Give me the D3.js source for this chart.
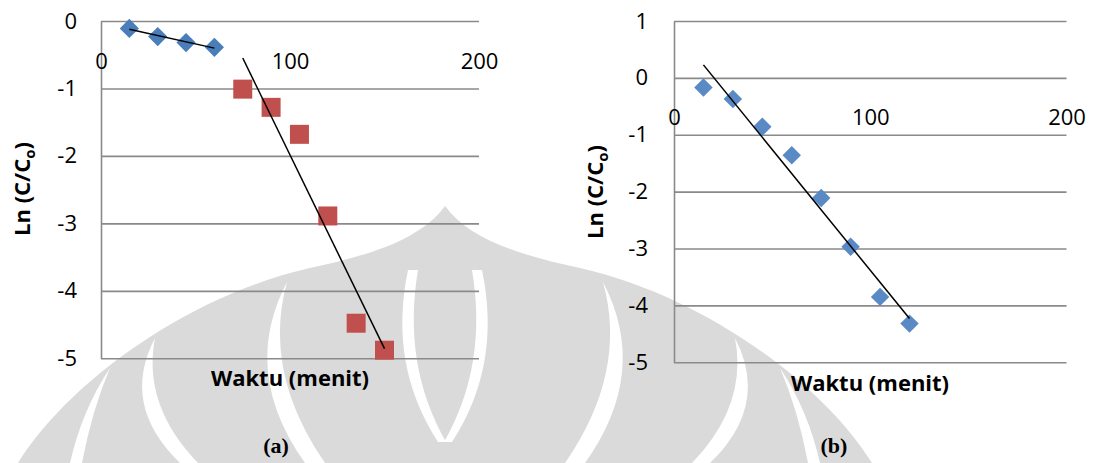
<!DOCTYPE html>
<html><head><meta charset="utf-8">
<script src="https://cdn.jsdelivr.net/npm/d3@7"></script>
<style>body{margin:0;background:#fff}svg{display:block}</style>
</head><body>
<svg id="c" width="1096" height="463"></svg>
<script>
// ---- data ----
const xTicks = [0, 100, 200];
const yTicksA = [0, -1, -2, -3, -4, -5];
const yTicksB = [1, 0, -1, -2, -3, -4, -5];
const timeA1 = [15, 30, 45, 60];
const lnA1 = [-0.11, -0.23, -0.32, -0.39];
const timeA2 = [75, 90, 105, 120, 135, 150];
const lnA2 = [-1.01, -1.28, -1.68, -2.89, -4.48, -4.88];
const timeB = [15, 30, 45, 60, 75, 90, 105, 120];
const lnB = [-0.17, -0.37, -0.86, -1.36, -2.11, -2.97, -3.85, -4.32];
const xTitle = "Waktu (menit)";
const panelLabels = ["(a)", "(b)"];

const svg = d3.select("#c");
const FONT = "'Open Sans', 'Liberation Sans', sans-serif";

// ---- watermark (background decoration) ----
const wm = svg.append("g");
wm.append("path").attr("fill", "#dadada")
  .attr("d", "M445,206 C470,240 520,255 580,268 C700,295 820,380 872,463 L18,463 C70,380 190,295 310,268 C370,255 420,240 445,206 Z");
const gaps = [
  "M287,282 Q240,372 305,463 L325,463 Q262,372 287,282 Z",
  "M603,282 Q650,372 585,463 L565,463 Q628,372 603,282 Z",
  "M155,338 Q120,405 180,463 L198,463 Q142,405 155,338 Z",
  "M735,338 Q770,405 710,463 L692,463 Q748,405 735,338 Z",
  "M110,368 Q82,410 70,463 L82,463 Q92,410 110,368 Z",
  "M780,368 Q808,410 820,463 L808,463 Q798,410 780,368 Z",
  "M408,270 Q388,365 438,442 L446,442 Q402,365 418,270 Z",
  "M482,270 Q502,365 452,442 L444,442 Q488,365 472,270 Z"
];
wm.selectAll("path.gap").data(gaps).join("path").attr("class", "gap")
  .attr("fill", "#fff").attr("d", d => d);

function fit(xs, ys) {
  const mx = d3.mean(xs), my = d3.mean(ys);
  const sxy = d3.sum(xs, (v, i) => (v - mx) * (ys[i] - my));
  const sxx = d3.sum(xs, v => (v - mx) * (v - mx));
  const b = sxy / sxx;
  return { b, a: my - b * mx };
}

function panel(cfg) {
  const x = d3.scaleLinear().domain([0, 200]).range(cfg.xr);
  const y = d3.scaleLinear().domain(cfg.yd).range(cfg.yr);
  const g = svg.append("g");
  const w = cfg.xr[1] - cfg.xr[0];

  const ya = g.append("g").attr("transform", `translate(${cfg.xr[0]},0)`)
    .call(d3.axisLeft(y).tickValues(cfg.yt).tickSize(-w).tickSizeOuter(0)
      .tickPadding(cfg.pad).tickFormat(d => String(d)));
  ya.selectAll("line").attr("stroke", "#8a8a8a").attr("stroke-width", 1.6);
  ya.select(".domain").attr("stroke", "#8a8a8a").attr("stroke-width", 1.6);
  ya.selectAll("text").attr("font-family", FONT).attr("font-size", 22).attr("fill", "#000");

  const xa = g.append("g").attr("transform", `translate(0,${y(0)})`)
    .call(d3.axisBottom(x).tickValues(xTicks).tickSize(0).tickPadding(32).tickFormat(d => String(d)));
  xa.select(".domain").remove();
  xa.selectAll("text").attr("font-family", FONT).attr("font-size", 22).attr("fill", "#000");

  // markers
  cfg.series.forEach(s => {
    const sym = d3.symbol().type(d3.symbolSquare).size(s.size);
    g.append("g").selectAll("path").data(s.t.map((t, i) => [t, s.v[i]])).join("path")
      .attr("d", sym)
      .attr("fill", s.color)
      .attr("transform", d => `translate(${x(d[0])},${y(d[1])}) rotate(${s.rot})`);
  });
  // linear trendlines (least squares over each series' range), drawn above markers
  cfg.series.forEach(s => {
    const f = fit(s.t, s.v);
    const ext = d3.extent(s.t);
    g.append("path").attr("fill", "none").attr("stroke", "#000").attr("stroke-width", 1.5)
      .attr("d", d3.line().x(d => x(d)).y(d => y(f.a + f.b * d))(ext));
  });

  // x title
  g.append("text").attr("x", cfg.xtx).attr("y", cfg.xty).attr("text-anchor", "middle")
    .attr("font-family", FONT).attr("font-weight", "bold").attr("font-size", 22).text(xTitle);
  // y title
  const yt = g.append("text").attr("transform", `translate(${cfg.ytx},${cfg.yty}) rotate(-90)`)
    .attr("text-anchor", "middle").attr("font-family", FONT).attr("font-weight", "bold").attr("font-size", 22);
  yt.append("tspan").text("Ln (C/C");
  yt.append("tspan").attr("font-size", 15).attr("dy", 5).text("o");
  yt.append("tspan").attr("dy", -5).text(")");
  // panel label
  g.append("text").attr("x", cfg.lx).attr("y", 453).attr("text-anchor", "middle")
    .attr("font-family", "'Liberation Serif', 'Times New Roman', serif").attr("font-weight", "bold")
    .attr("font-size", 22).text(cfg.label);
}

panel({
  xr: [101, 479], yd: [-5, 0], yr: [358.3, 21], yt: yTicksA, pad: 24,
  series: [
    { t: timeA1, v: lnA1, color: "#4a7ebb", size: 185, rot: 45 },
    { t: timeA2, v: lnA2, color: "#c0504d", size: 361, rot: 0 }
  ],
  xtx: 290, xty: 386, ytx: 30, yty: 189, lx: 276, label: panelLabels[0]
});
panel({
  xr: [674, 1066.5], yd: [-5, 1], yr: [362.3, 21], yt: yTicksB, pad: 26,
  series: [
    { t: timeB, v: lnB, color: "#5a8ac6", size: 170, rot: 45 }
  ],
  xtx: 870, xty: 391, ytx: 603, yty: 192, lx: 834, label: panelLabels[1]
});
</script>
</body></html>
